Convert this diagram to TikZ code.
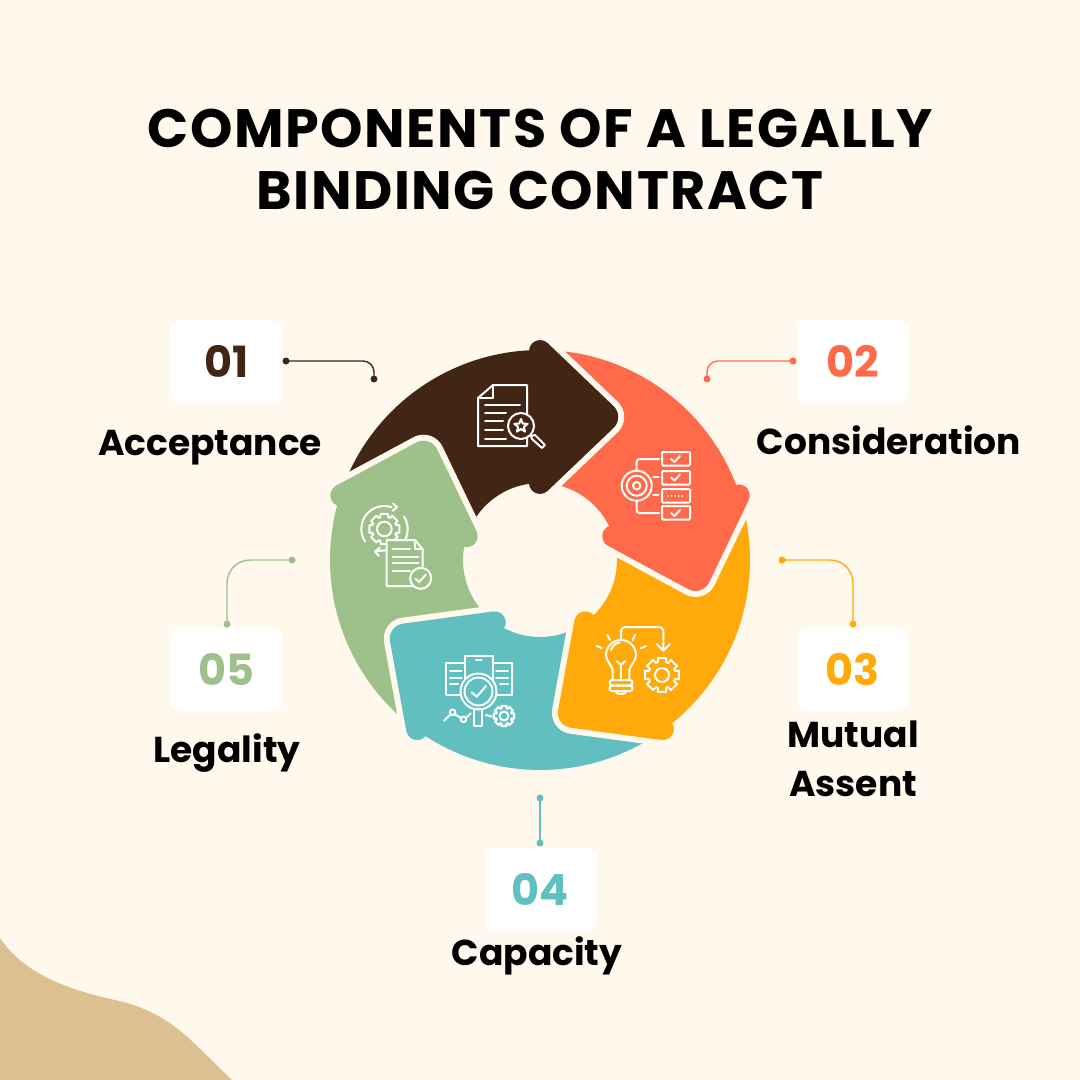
\documentclass[tikz,border=0pt]{standalone}
\usepackage{fontspec}
\setmainfont{Poppins}
\newfontfamily\titlefont[LetterSpace=3]{Poppins}
\definecolor{creambg}{HTML}{FFF8EC}
\definecolor{sandblob}{HTML}{DDC092}
\definecolor{darkbrown}{HTML}{412616}
\definecolor{coral}{HTML}{FF6B4A}
\definecolor{amber}{HTML}{FFA90B}
\definecolor{tealc}{HTML}{61C0BF}
\definecolor{sage}{HTML}{9EC08A}
\tikzset{
  numbox/.style={fill=white,rounded corners=10pt,minimum width=111pt,minimum height=83pt,inner sep=0pt},
  numtext/.style={font=\bfseries\fontsize{43}{47}\selectfont},
  labeltext/.style={font=\bfseries\fontsize{36}{49}\selectfont,align=center,text=black},
  enddot/.style={circle,fill=#1,minimum size=7pt,inner sep=0pt},
  leader/.style={draw=#1,line width=1.4pt},
  iconline/.style={draw=white,line width=2pt,line join=round,line cap=round},
}
% one arrow of the ring, head pointing clockwise at the top
\newcommand{\ringpath}{(162:210) arc[start angle=162,end angle=93,radius=210]
  -- (-11,209) arc[start angle=180,end angle=46,radius=11]
  [rounded corners=16pt] -- (85,143) [sharp corners] -- (7.6,69.1) arc[start angle=-46,end angle=-180,radius=11]
  -- (-11,76.2) arc[start angle=98.2,end angle=162,radius=77] -- cycle}
\newcommand{\ringarrow}[2]{%
  \begin{scope}[shift={(540,560)},y=1pt,rotate=#1]
    \path[draw=creambg,line width=12pt,line join=round] \ringpath;
    \path[fill=#2] \ringpath;
  \end{scope}}
% gear outline: x, y, root radius, tip radius, hole radius
\newcommand{\gearicon}[5]{%
  \begin{scope}[shift={(#1,#2)}]
    \draw[iconline] (-14:#4) \foreach \a in {0,45,...,315} {
        -- (\a-14:#4) -- (\a+14:#4) -- (\a+18:#3) -- (\a+27:#3)} -- cycle;
    \draw[iconline] (0,0) circle (#5);
  \end{scope}}
\begin{document}
\begin{tikzpicture}[x=1pt,y=-1pt]

  \useasboundingbox (0,0) rectangle (1080,1080);
  \fill[creambg] (0,0) rectangle (1080,1080);

  % corner blob
  \fill[sandblob] (0,938) .. controls (25,975) and (70,990) .. (115,1000)
    .. controls (170,1012) and (190,1040) .. (232,1080) -- (0,1080) -- cycle;

  % title
  \node[font=\titlefont\bfseries\fontsize{54}{62}\selectfont,align=center,text=black] (title) at (540,159)
    {COMPONENTS OF A LEGALLY\\BINDING CONTRACT};

  % ring, green comes twice since the overlaps go round in a circle
  \ringarrow{72}{sage}
  \ringarrow{144}{tealc}
  \ringarrow{-144}{amber}
  \ringarrow{-72}{coral}
  \ringarrow{0}{darkbrown}
  \begin{scope}
    \clip (300,300) rectangle (540,590);
    \ringarrow{72}{sage}
  \end{scope}

  % number boxes
  \foreach \nm/\x/\y/\col/\num in {a/226.5/361.5/darkbrown/01,b/852.5/361.5/coral/02,
      c/852.5/669.5/amber/03,d/540.5/889.5/tealc/04,e/226.5/669.5/sage/05}
    \node[numbox,numtext,text=\col] (box\nm) at (\x,\y) {\num};

  % labels
  \node[labeltext] (laba) at (210,448) {Acceptance};
  \node[labeltext] (labb) at (889,440) {Consideration};
  \node[labeltext] (labc) at (853,759) {Mutual\\Assent};
  \node[labeltext] (labd) at (537,956) {Capacity};
  \node[labeltext] (labe) at (227,753) {Legality};

  % leaders
  \node[enddot=darkbrown] (da1) at (286,361) {};
  \node[enddot=darkbrown] (da2) at (374,379) {};
  \draw[leader=darkbrown,rounded corners=11pt] (da1.center) -| (da2.center);
  \node[enddot=coral] (db1) at (793,361) {};
  \node[enddot=coral] (db2) at (707,379) {};
  \draw[leader=coral,rounded corners=11pt] (db1.center) -| (db2.center);
  \node[enddot=amber] (dc1) at (782,560) {};
  \node[enddot=amber] (dc2) at (853,624) {};
  \draw[leader=amber,rounded corners=23pt] (dc1.center) -| (dc2.center);
  \node[enddot=tealc] (dd1) at (540,798) {};
  \node[enddot=tealc] (dd2) at (540,843) {};
  \draw[leader=tealc] (dd1.center) -- (dd2.center);
  \node[enddot=sage] (de1) at (292,560) {};
  \node[enddot=sage] (de2) at (227,624) {};
  \draw[leader=sage,rounded corners=23pt] (de1.center) -| (de2.center);

  % icon: contract under a lens
  \draw[iconline] (478,398) -- (493,385) -- (527,385) -- (527,446) -- (478,446) -- cycle;
  \draw[iconline] (478,398) -- (493,398) -- (493,385);
  \foreach \y/\xe in {405/520,413/506,421/503,430/503,439/506}
    \draw[iconline] (485,\y) -- (\xe,\y);
  \draw[iconline,fill=darkbrown] (521,426) circle (13);
  \draw[iconline] (531,436) -- (535,435) -- (545,445) -- (542,448) -- (532,439) -- cycle;
  \begin{scope}[shift={(521,426)}]
    \draw[iconline] (270:7) -- (306:3) -- (342:7) -- (18:3) -- (54:7) -- (90:3)
      -- (126:7) -- (162:3) -- (198:7) -- (234:3) -- cycle;
  \end{scope}

  % icon: target and checklist
  \foreach \y in {452,471,489,506}
    \draw[iconline,rounded corners=1pt] (662,\y) rectangle (690,\y+13.5);
  \foreach \y in {459,477.5,513}
    \draw[iconline] (671,\y) -- (674.5,\y+3) -- (680,\y-3);
  \draw[iconline,dash pattern=on 0.1pt off 3.4pt] (668,495.5) -- (684,495.5);
  \foreach \r in {15,10,3.7}
    \draw[iconline] (636.7,485.7) circle (\r);
  \draw[iconline,rounded corners=3pt] (636.5,470) -- (636.5,459) -- (659,459);
  \draw[iconline,rounded corners=3pt] (636.5,501) -- (636.5,513) -- (659,513);
  \draw[iconline] (653,476.7) -- (658.5,476.7);
  \draw[iconline] (653,495) -- (658.5,495);

  % icon: bulb and gear
  \draw[iconline] (612.7,679) -- (612.7,670) .. controls (611,664) and (606,661) .. (606,655)
    arc[start angle=180,end angle=360,radius=15] .. controls (636,661) and (631,664) .. (629.3,670) -- (629.3,679);
  \draw[iconline] (611,650) arc[start angle=195,end angle=265,radius=10];
  \draw[iconline] (621,679) -- (621,665);
  \draw[iconline] (616.5,661) -- (621,665) -- (625.5,661);
  \draw[iconline,rounded corners=2.5pt] (609.5,680) rectangle (632.5,685.5);
  \draw[iconline,rounded corners=2.5pt] (609.5,685.5) rectangle (632.5,691);
  \draw[iconline] (615,691) .. controls (616,695) and (626,695) .. (627,691);
  \draw[iconline] (607.3,635) -- (610,640);
  \draw[iconline] (596.7,646) -- (601.7,648);
  \draw[iconline] (635,635) -- (632.7,640);
  \draw[iconline] (646,646) -- (640.7,648.3);
  \draw[iconline,rounded corners=4pt] (621,640) -- (621,627) -- (663.3,627) -- (663.3,650);
  \draw[iconline] (656.7,644) -- (663.3,650.7) -- (670,644);
  \gearicon{662}{675}{13.5}{17.5}{7}

  % icon: lens over three sheets
  \draw[iconline] (465,695) -- (446,695) -- (446,663) -- (465,663);
  \draw[iconline] (493,695) -- (512,695) -- (512,663) -- (493,663);
  \draw[iconline] (465,680) -- (465,656) -- (493,656) -- (493,680);
  \draw[iconline] (476,660) -- (481.7,660);
  \foreach \y/\xe in {671/461.7,677.5/461.7,684/458}
    \draw[iconline] (450,\y) -- (\xe,\y);
  \foreach \y/\xs in {671/496,677.5/496,684/500}
    \draw[iconline] (\xs,\y) -- (508,\y);
  \draw[iconline,fill=tealc] (478.5,691.5) circle (18);
  \draw[iconline] (478.5,691.5) circle (14);
  \draw[iconline] (471.7,692.3) -- (476.7,696.7) -- (486,686);
  \draw[iconline] (474.3,709) rectangle (482.3,725.7);
  \draw[iconline] (444,720.7) -- (451,714) (454.5,714) -- (461,718) (466,718) -- (470.7,713.3);
  \draw[iconline] (452.7,712.3) circle (2.8);
  \draw[iconline] (463.5,719.3) circle (2.8);
  \draw[iconline] (486,715) -- (491.7,716.7);
  \gearicon{504}{716}{8}{10.5}{4.5}

  % icon: gear cycle and sheet
  \gearicon{384.3}{529}{12.5}{15.5}{7.3}
  \draw[iconline] (365,541.5) arc[start angle=147,end angle=288,radius=23];
  \draw[iconline] (393,503.5) -- (397,507) -- (392.5,511);
  \draw[iconline] (404,516.5) arc[start angle=-32,end angle=28,radius=24];
  \draw[iconline] (387,550) -- (375,551.5);
  \draw[iconline] (380,547.5) -- (375,551.5) -- (379,556);
  \draw[iconline,fill=sage] (386.7,540) -- (415,540) -- (422.7,549.3) -- (422.7,575) -- (422,586) -- (386.7,586) -- cycle;
  \draw[iconline] (415,540) -- (415,549.3) -- (422.7,549.3);
  \foreach \y/\xe in {549.3/410,556.7/418.3,563.3/418.3,570.7/410}
    \draw[iconline] (392.7,\y) -- (\xe,\y);
  \draw[iconline,fill=sage] (420.7,578.3) circle (10.5);
  \draw[iconline] (415.5,578.5) -- (419,582) -- (426,574.5);

\end{tikzpicture}
\end{document}
